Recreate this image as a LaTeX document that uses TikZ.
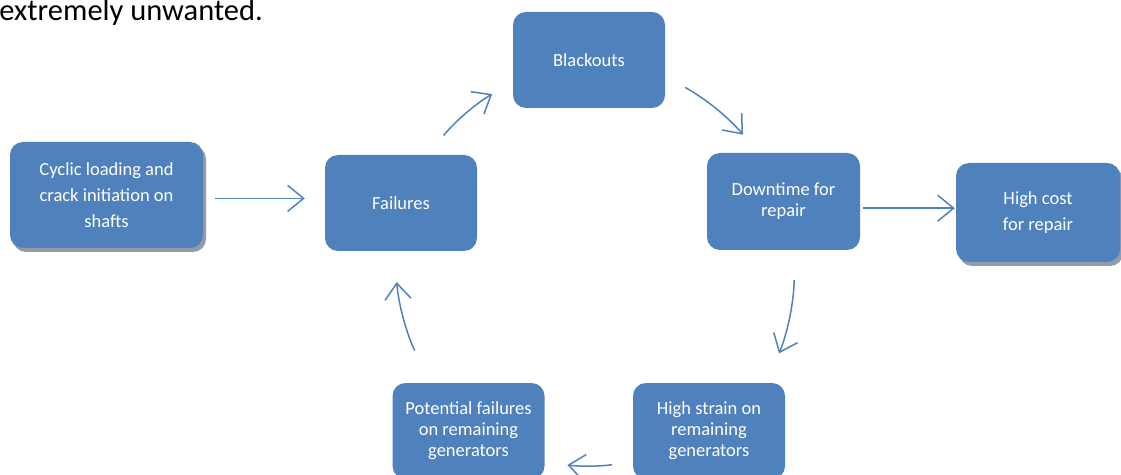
\documentclass[tikz,border=0pt]{standalone}
\usepackage{fontspec}
\setmainfont{Carlito}
\usetikzlibrary{arrows.meta, shadows}
\definecolor{boxblue}{RGB}{79,129,189}
\definecolor{shadowgray}{RGB}{145,155,170}
\tikzset{
  cyclebox/.style={fill=boxblue, rounded corners=13pt, text=white, align=center,
    inner sep=0pt, minimum width=152pt, minimum height=96pt,
    font=\fontsize{18.5}{21}\selectfont},
  shadowbox/.style={cyclebox, font=\fontsize{18.5}{26}\selectfont,
    drop shadow={shadow xshift=3pt, shadow yshift=-4pt, fill=shadowgray, opacity=1}},
  flow/.style={draw=boxblue, line width=1.5pt, -{Straight Barb[length=16pt, width=26pt]}}
}

\begin{document}
\begin{tikzpicture}[x=1pt, y=1pt]
  \useasboundingbox (0,0) rectangle (1121,474);
  % Text above
  \node[anchor=base east, inner sep=0pt, font=\fontsize{30.5}{36}\selectfont] (intro) at (263,453) {extremely unwanted.};

  % Boxes
  \node[shadowbox, minimum width=193pt, minimum height=106pt] (cyc) at (106.5,279) {Cyclic loading and\\crack initiation on\\shafts};
  \node[cyclebox] (fail) at (401,271) {Failures};
  \node[cyclebox] (blk) at (589,414) {Blackouts};
  \node[cyclebox, minimum width=153pt, minimum height=97pt] (dwn) at (783.5,272.5) {Downtime for\\repair};
  \node[shadowbox, minimum width=164pt, minimum height=99pt] (cost) at (1038,261.5) {High cost\\for repair};
  \node[cyclebox] (strain) at (709,43) {High strain on\\remaining\\generators};
  \node[cyclebox] (pot) at (468.5,43) {Potential failures\\on remaining\\generators};

  % Arrows
  \draw[flow, shorten <=12pt, shorten >=20pt] (cyc.-2) -- (cyc.-2 -| fail.west);
  \draw[flow, shorten <=3pt, shorten >=1pt] (dwn.-5) -- (dwn.-5 -| cost.west);
  \draw[flow, shorten <=25pt, shorten >=24pt] (fail.61) to[bend left=10] (blk.196);
  \draw[flow, shorten <=23pt, shorten >=24pt] (blk.-12) to[bend left=10] (dwn.117);
  \draw[flow, shorten <=30pt, shorten >=32pt] (dwn.-77) to[bend left=11] (strain.40);
  \draw[flow, shorten <=21pt, shorten >=23pt] (strain.202) to[bend left=8] (pot.-22);
  \draw[flow, shorten <=36pt, shorten >=31pt] (pot.128) to[bend left=11] (fail.262);
\end{tikzpicture}
\end{document}
